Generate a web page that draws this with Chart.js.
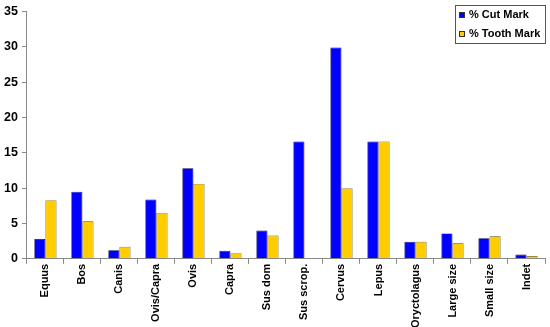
<!DOCTYPE html>
<html>
<head>
<meta charset="utf-8">
<script src="https://cdn.jsdelivr.net/npm/chart.js@4/dist/chart.umd.min.js"></script>
<style>
  html, body { margin: 0; padding: 0; background: #fff; }
  #wrap { width: 550px; height: 327px; }
</style>
</head>
<body>
<div id="wrap"><canvas id="chart"></canvas></div>
<script>
var categories = ['Equus', 'Bos', 'Canis', 'Ovis/Capra', 'Ovis', 'Capra', 'Sus dom', 'Sus scrop.',
  'Cervus', 'Lepus', 'Oryctolagus', 'Large size', 'Small size', 'Indet'];
var cutMark = [2.8, 9.5, 1.2, 8.4, 12.8, 1.15, 4.0, 16.6, 29.9, 16.6, 2.4, 3.6, 2.9, 0.6];
var toothMark = [8.3, 5.3, 1.7, 6.5, 10.6, 0.8, 3.3, 0, 10.0, 16.6, 2.4, 2.2, 3.2, 0.4];
var seriesNames = ['% Cut Mark', '% Tooth Mark'];
var yTicks = [0, 5, 10, 15, 20, 25, 30, 35];

var blue = '#0000ff';
var yellow = '#ffcc00';
var axisGray = '#888888';
var xFont = { family: 'Liberation Sans, Arial, sans-serif', size: 11, weight: 'bold' };
var yFont = { family: 'Liberation Sans, Arial, sans-serif', size: 12.5, weight: 'bold' };

// legend drawn as a framed box in the top right corner of the plot
var boxLegend = {
  id: 'boxLegend',
  afterDraw: function(chart) {
    var ctx = chart.ctx;
    var x = 455.5, y = 5.5, w = 90, h = 38;
    ctx.save();
    ctx.fillStyle = '#fff';
    ctx.fillRect(x, y, w, h);
    ctx.strokeStyle = '#555';
    ctx.lineWidth = 1;
    ctx.strokeRect(x, y, w, h);
    ctx.font = 'bold 11px Liberation Sans, Arial, sans-serif';
    ctx.textBaseline = 'middle';
    chart.data.datasets.forEach(function(ds, i) {
      var cy = 15 + i * 19;
      ctx.fillStyle = ds.backgroundColor;
      ctx.fillRect(459, cy - 3, 6, 6);
      ctx.strokeStyle = '#333';
      ctx.strokeRect(459.5, cy - 2.5, 5, 5);
      ctx.fillStyle = '#000';
      ctx.fillText(ds.label, 469, cy);
    });
    ctx.restore();
  }
};

var chart = new Chart(document.getElementById('chart'), {
  type: 'bar',
  data: {
    labels: categories,
    datasets: [
      { label: seriesNames[0], data: cutMark, backgroundColor: blue, borderColor: '#000066', borderWidth: 0.7 },
      { label: seriesNames[1], data: toothMark, backgroundColor: yellow, borderColor: '#5a4a00', borderWidth: 0.7 }
    ]
  },
  options: {
    responsive: true,
    maintainAspectRatio: false,
    animation: false,
    datasets: { bar: { categoryPercentage: 0.6, barPercentage: 1.0 } },
    layout: { padding: { top: 8, right: 5, left: 0, bottom: -1 } },
    plugins: {
      legend: { display: false },
      tooltip: { enabled: false }
    },
    scales: {
      x: {
        grid: { display: true, drawOnChartArea: false, drawTicks: true, tickLength: 5, color: axisGray, offset: true },
        border: { color: axisGray, width: 1 },
        ticks: { color: '#000', font: xFont, minRotation: 90, maxRotation: 90, padding: 0, autoSkip: false }
      },
      y: {
        min: 0,
        max: 35,
        afterBuildTicks: function(axis) {
          axis.ticks = yTicks.map(function(v) { return { value: v }; });
        },
        grid: { display: true, drawOnChartArea: false, drawTicks: true, tickLength: 5, color: axisGray },
        border: { color: axisGray, width: 1 },
        ticks: { color: '#000', font: yFont, padding: 4 }
      }
    }
  },
  plugins: [boxLegend]
});
</script>
</body>
</html>
